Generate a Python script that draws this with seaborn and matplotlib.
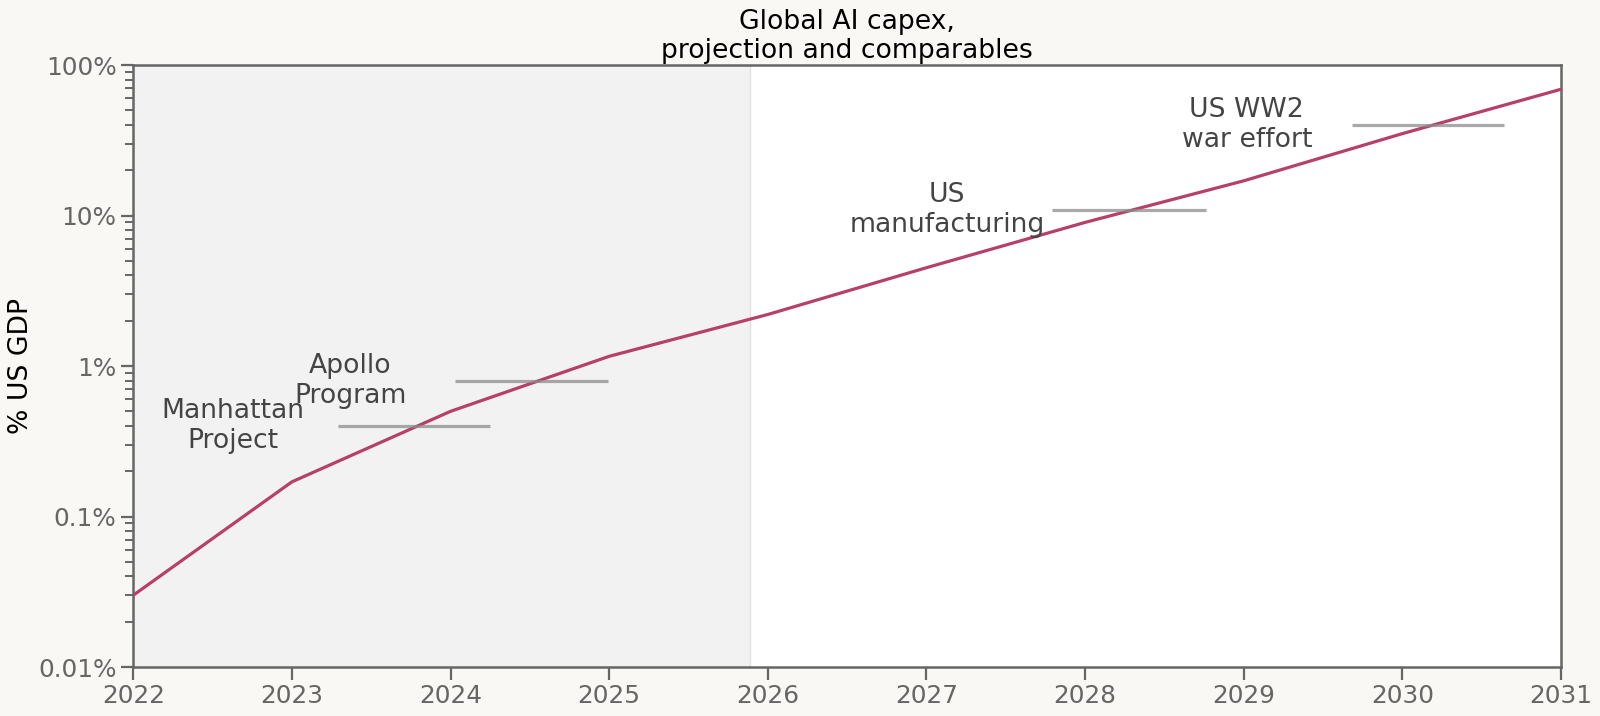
import numpy as np
import pandas as pd
import matplotlib
matplotlib.use("Agg")
import matplotlib.pyplot as plt
import matplotlib.ticker as mticker
import seaborn as sns

# Projection of global AI capex, % of US GDP
years = [2022, 2023, 2024, 2025, 2026, 2027, 2028, 2029, 2030, 2031]
capex_pct = [0.03, 0.17, 0.5, 1.16, 2.2, 4.5, 9.0, 17.0, 35.0, 69.0]

# Historical comparables (value in % US GDP, drawn as short horizontal bars)
comp_names = ["Manhattan\nProject", "Apollo\nProgram", "US\nmanufacturing", "US WW2\nwar effort"]
comp_pct = [0.4, 0.8, 10.8, 40.0]
comp_start = [2023.29, 2024.03, 2027.79, 2029.68]
comp_end = [2024.25, 2024.99, 2028.76, 2030.64]

shade_end = 2025.89  # shaded (past) period
ytick_vals = [0.01, 0.1, 1, 10, 100]
ytick_labels = ["0.01%", "0.1%", "1%", "10%", "100%"]

bg = "#f9f8f4"
axis_col = "#666666"
line_col = "#b7406b"

sns.set_theme(style="ticks")
plt.rcParams["font.family"] = ["DejaVu Sans"]

fig = plt.figure(figsize=(16, 7.16), dpi=100, facecolor=bg)
ax = fig.add_axes([0.0833, 0.0684, 0.9756 - 0.0833, 0.9092 - 0.0684])
ax.set_facecolor("white")

df = pd.DataFrame({"year": years, "capex": capex_pct})

ax.axvspan(years[0], shade_end, facecolor="#f2f2f2", edgecolor="#e2e2e2", lw=1, zorder=0)
sns.lineplot(data=df, x="year", y="capex", color=line_col, lw=2.3, ax=ax, zorder=3)

# comparables
ax.hlines(comp_pct, comp_start, comp_end, color="#8c8c8c", lw=2.3, alpha=0.75, zorder=4)
for name, val, x0 in zip(comp_names, comp_pct, comp_start):
    ax.text(x0 - 0.66, val, name, ha="center", va="center", fontsize=19.2, color="#444444",
            linespacing=1.2, zorder=5)

ax.set_yscale("log")
ax.set_ylim(0.01, 100)
ax.set_xlim(years[0], years[-1])
ax.set_yticks(ytick_vals)
ax.set_yticklabels(ytick_labels)
ax.yaxis.set_minor_locator(mticker.LogLocator(base=10, subs=np.arange(2, 10)))
ax.yaxis.set_minor_formatter(mticker.NullFormatter())
ax.set_xticks(years)
ax.set_xticklabels([str(y) for y in years])
ax.xaxis.set_minor_locator(mticker.NullLocator())

ax.tick_params(axis="both", which="major", direction="out", length=9, width=1.6,
               color=axis_col, labelcolor=axis_col, labelsize=17.8, pad=3)
ax.tick_params(axis="y", which="minor", direction="out", length=6, width=1.4, color=axis_col)
for s in ax.spines.values():
    s.set_visible(True)
    s.set_color(axis_col)
    s.set_linewidth(1.8)

ax.set_xlabel("")
ax.set_ylabel("% US GDP", fontsize=19.2, color="black", labelpad=3)
ax.set_title("Global AI capex,\nprojection and comparables", fontsize=19.2, color="black",
             pad=5, linespacing=1.15)

fig.savefig("out.png", dpi=100, facecolor=bg)
